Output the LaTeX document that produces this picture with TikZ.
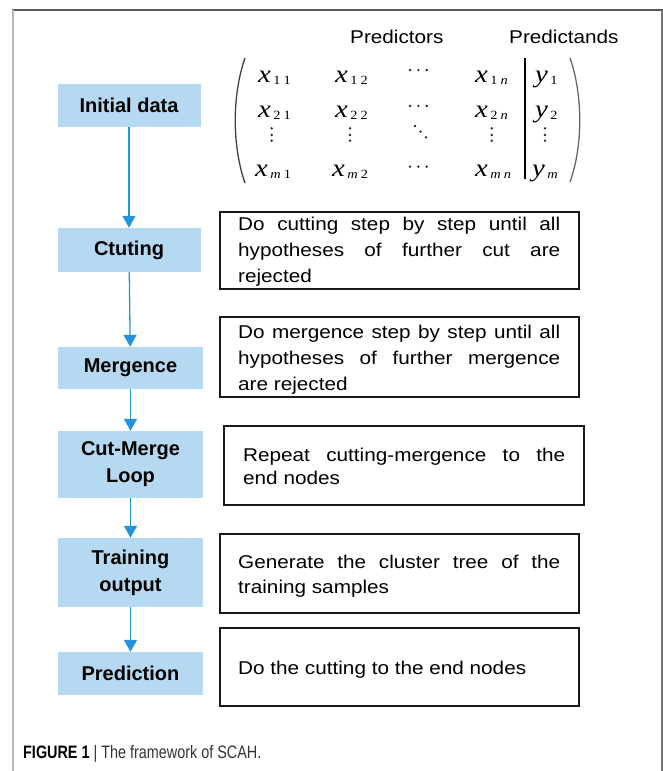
\documentclass[tikz,border=0pt]{standalone}
\usepackage{fontspec}
\setmainfont{Liberation Sans}
\newfontfamily\bodyfont{Liberation Sans}[FakeStretch=1.12]
\newfontfamily\capfont{Liberation Sans}[FakeStretch=0.8]
\newfontfamily\mtxfont{Liberation Serif}[FakeStretch=1.15]
\usetikzlibrary{arrows.meta}
\definecolor{stepfill}{RGB}{181,217,240}
\definecolor{flowblue}{RGB}{35,148,218}
\definecolor{dotgray}{RGB}{40,40,40}

% one matrix entry: italic letter followed by a spaced subscript
\newcommand\mentry[2]{{\mtxfont\fontsize{25}{25}\selectfont\itshape #1}\hspace{2.5pt}\raisebox{-2pt}{\mtxfont\fontsize{12.5}{12.5}\selectfont #2}}
\newcommand\msp{\hspace{3pt}}

\tikzset{
  stepbox/.style={fill=stepfill, draw=none, minimum width=143, inner sep=0,
    align=center, font=\fontsize{20}{27}\selectfont\bfseries},
  notebox/.style={draw=black!90, line width=1.8, minimum width=359, inner sep=0},
  notetext/.style={anchor=base west, inner sep=0, text width=322, align=justify,
    execute at begin node={\hyphenpenalty=10000\exhyphenpenalty=10000}},
  flow/.style={draw=flowblue, line width=1.3, -{Triangle[width=13,length=12]}},
  entry/.style={anchor=base west, inner sep=0},
  mdot/.style={fill=dotgray, draw=none},
}

\begin{document}
\begin{tikzpicture}[x=1pt, y=-1pt]
\useasboundingbox (0,0) rectangle (663,771);

% outer frame
\draw[draw=black!65, line width=1.5] (12,10) -- (663,10);
\draw[draw=black!28, line width=2.5] (13,9.5) -- (13,771);
\draw[draw=black!55, line width=1.5] (662,10) -- (662,771);

% column headers
\node[entry, font=\bodyfont\fontsize{18.5}{22}\selectfont] (hpred) at (350,43) {Predictors};
\node[entry, font=\bodyfont\fontsize{18.5}{22}\selectfont] (hpnd) at (509,43) {Predictands};

% data matrix
\draw[draw=black!75, line width=1.3] (245,58) .. controls (232,95) and (232,146) .. (245,183);
\draw[draw=black!60, line width=1.3] (570,58) .. controls (583,95) and (583,146) .. (570,182);
\draw[draw=black, line width=2.6] (525,58) -- (525,179);

\node[entry] (x11) at (258,82.5) {\mentry{x}{1\msp1}};
\node[entry] (x12) at (335,82.5) {\mentry{x}{1\msp2}};
\node[entry] (x1n) at (475,82.5) {\mentry{x}{1\msp\textit{n}}};
\node[entry] (y1)  at (535,82.5) {\mentry{y}{1}};

\node[entry] (x21) at (258,117) {\mentry{x}{2\msp1}};
\node[entry] (x22) at (335,117) {\mentry{x}{2\msp2}};
\node[entry] (x2n) at (475,117) {\mentry{x}{2\msp\textit{n}}};
\node[entry] (y2)  at (535,117) {\mentry{y}{2}};

\node[entry] (xm1) at (255,176) {\mentry{x}{\textit{m}\msp1}};
\node[entry] (xm2) at (332,176) {\mentry{x}{\textit{m}\msp2}};
\node[entry] (xmn) at (475,176) {\mentry{x}{\textit{m}\msp\textit{n}}};
\node[entry] (ym)  at (532,176) {\mentry{y}{\textit{m}}};

% ellipsis dots
\foreach \yy in {70,106,166.7}
  \foreach \xx in {410,418.3,426.7}
    \fill[mdot] (\xx,\yy) circle (1.3);
\foreach \xx in {271.7,350,491.7,545}
  \foreach \yy in {128.3,135,140.7}
    \fill[mdot] (\xx,\yy) circle (1.3);
\foreach \xx/\yy in {415/126,420.5/131.7,426/137.3}
  \fill[mdot] (\xx,\yy) circle (1.3);

% process steps
\node[stepbox, minimum height=43] (init)  at (129,105.5) {Initial data};
\node[stepbox, minimum height=44] (cut)   at (129,250)   {Ctuting};
\node[stepbox, minimum width=145, minimum height=42] (merge) at (130.5,368) {Mergence};
\node[stepbox, minimum width=145, minimum height=67] (loop)  at (130.5,464.5) {Cut-Merge\\Loop};
\node[stepbox, minimum width=145, minimum height=69] (train) at (130.5,572.5) {Training\\output};
\node[stepbox, minimum width=145, minimum height=43] (pred)  at (130.5,673.5) {Prediction};

\draw[flow] (init) -- (cut);
\draw[flow] (cut) -- (merge);
\draw[flow] (merge) -- (loop);
\draw[flow] (loop) -- (train);
\draw[flow] (train) -- (pred);

% descriptions
\node[notebox, minimum height=77] (n1) at (399.5,250.5) {};
\node[notebox, minimum height=80] (n2) at (399.5,357) {};
\node[notebox, minimum width=360, minimum height=79] (n3) at (404,465.5) {};
\node[notebox, minimum height=79] (n4) at (399.5,573.5) {};
\node[notebox, minimum height=78] (n5) at (399.5,667) {};

\node[notetext, font=\bodyfont\fontsize{18.5}{26}\selectfont] (t1) at (238,230)
  {Do cutting step by step until all\linebreak hypotheses of further cut are\linebreak rejected};
\node[notetext, font=\bodyfont\fontsize{18.5}{26}\selectfont] (t2) at (238,338)
  {Do mergence step by step until all\linebreak hypotheses of further mergence\linebreak are rejected};
\node[notetext, font=\bodyfont\fontsize{18.5}{23.5}\selectfont] (t3) at (243,461)
  {Repeat cutting-mergence to the\linebreak end nodes};
\node[notetext, font=\bodyfont\fontsize{18.5}{25}\selectfont] (t4) at (238,568)
  {Generate the cluster tree of the\linebreak training samples};
\node[notetext, font=\bodyfont\fontsize{18.5}{25}\selectfont] (t5) at (238,674)
  {Do the cutting to the end nodes};

% caption
\node[entry, font=\capfont\fontsize{18}{20}\selectfont, text=black!80] (cap) at (23,758)
  {{\bfseries\color{black}FIGURE 1} | The framework of SCAH.};
\end{tikzpicture}
\end{document}
